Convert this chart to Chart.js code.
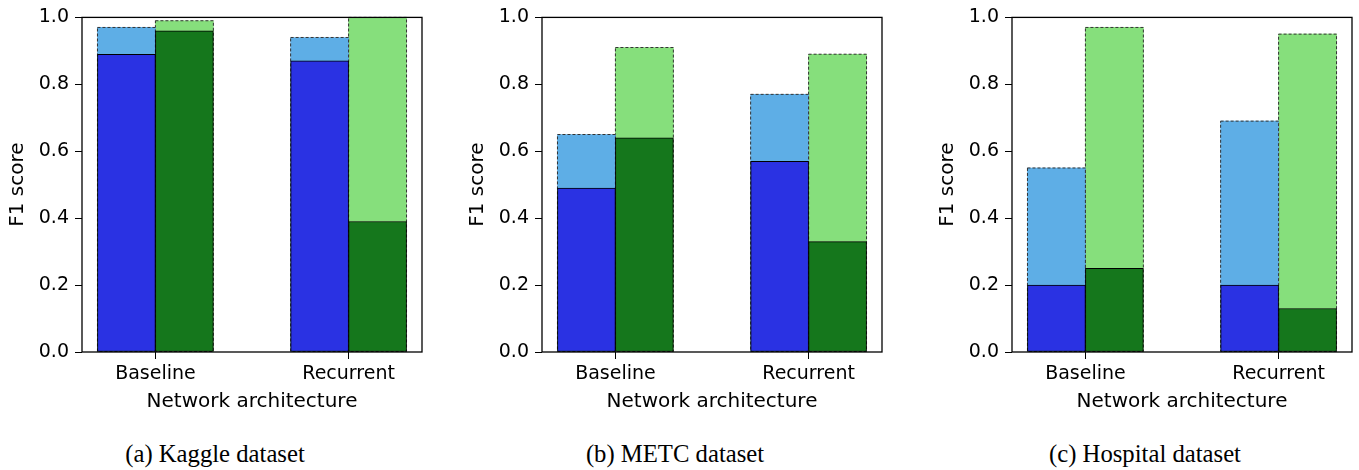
<!DOCTYPE html>
<html><head><meta charset="utf-8">
<script src="https://cdn.jsdelivr.net/npm/chart.js@4.4.1/dist/chart.umd.min.js"></script>
<style>
html,body{margin:0;padding:0;background:#fff;}
#wrap{position:relative;width:1359px;height:470px;overflow:hidden;background:#fff;}
#wrap canvas{position:absolute;top:0;}
.cap{position:absolute;top:441px;width:430px;text-align:center;font-family:'Liberation Serif','Times New Roman',serif;font-size:24.7px;line-height:25px;color:#000;white-space:nowrap;}
</style></head><body>
<div id="wrap"></div>
<script>
// ---- data ----
const categories = ['Baseline', 'Recurrent'];
const yTickValues = [0.0, 0.2, 0.4, 0.6, 0.8, 1.0];
const xAxisTitle = 'Network architecture';
const yAxisTitle = 'F1 score';
const captions = ['(a) Kaggle dataset', '(b) METC dataset', '(c) Hospital dataset'];

const kaggleBlueDark   = [0.89, 0.87];
const kaggleBlueTotal  = [0.97, 0.94];
const kaggleGreenDark  = [0.96, 0.39];
const kaggleGreenTotal = [0.99, 1.00];

const metcBlueDark   = [0.49, 0.57];
const metcBlueTotal  = [0.65, 0.77];
const metcGreenDark  = [0.64, 0.33];
const metcGreenTotal = [0.91, 0.89];

const hospitalBlueDark   = [0.20, 0.20];
const hospitalBlueTotal  = [0.55, 0.69];
const hospitalGreenDark  = [0.25, 0.13];
const hospitalGreenTotal = [0.97, 0.95];

// ---- styling / layout ----
const COLORS = {
  blueDark: '#2a32e3', blueLight: '#5eaee6',
  greenDark: '#15771c', greenLight: '#86df7c'
};
const BAR_OFFSET = 0.15;          // bar half-offset from category centre (in category units)
const X_MIN = -0.38, X_MAX = 1.38;
const panelLefts = [0, 460, 930];
const CANVAS_W = 430, CANVAS_H = 420;

const panels = [
  {bd: kaggleBlueDark, bt: kaggleBlueTotal, gd: kaggleGreenDark, gt: kaggleGreenTotal},
  {bd: metcBlueDark, bt: metcBlueTotal, gd: metcGreenDark, gt: metcGreenTotal},
  {bd: hospitalBlueDark, bt: hospitalBlueTotal, gd: hospitalGreenDark, gt: hospitalGreenTotal}
];

const toPoints = (vals, shift) => vals.map((v, i) => ({x: i + shift, y: v}));

const dashedOutline = {
  id: 'dashedOutline',
  afterDatasetDraw(chart, args) {
    const ds = chart.data.datasets[args.index];
    if (!ds.dashedEdge) return;
    const ctx = chart.ctx;
    ctx.save();
    ctx.strokeStyle = '#333333';
    ctx.lineWidth = 1;
    ctx.setLineDash([3, 2]);
    args.meta.data.forEach(el => {
      const p = el.getProps(['x', 'y', 'base', 'width'], true);
      ctx.strokeRect(p.x - p.width / 2, p.y, p.width, p.base - p.y);
    });
    ctx.restore();
  }
};

const frame = {
  id: 'frame',
  afterDatasetsDraw(chart) {
    const {ctx, chartArea: a} = chart;
    ctx.save();
    ctx.strokeStyle = '#000';
    ctx.lineWidth = 1.3;
    ctx.strokeRect(a.left, a.top, a.right - a.left, a.bottom - a.top);
    ctx.restore();
  }
};

const wrap = document.getElementById('wrap');
const FONT = "'DejaVu Sans', sans-serif";

panels.forEach((p, k) => {
  const cv = document.createElement('canvas');
  cv.width = CANVAS_W; cv.height = CANVAS_H;
  cv.style.left = panelLefts[k] + 'px';
  cv.style.width = CANVAS_W + 'px'; cv.style.height = CANVAS_H + 'px';
  wrap.appendChild(cv);

  const cap = document.createElement('div');
  cap.className = 'cap';
  cap.style.left = panelLefts[k] + 'px';
  cap.textContent = captions[k];
  wrap.appendChild(cap);

  const solid = (data, color) => ({
    data, backgroundColor: color, borderColor: '#000', borderWidth: 1,
    borderSkipped: false, grouped: false, barPercentage: 1, categoryPercentage: 1
  });
  const light = (data, color) => ({
    data, backgroundColor: color, borderWidth: 0, dashedEdge: true,
    grouped: false, barPercentage: 1, categoryPercentage: 1
  });

  new Chart(cv, {
    type: 'bar',
    data: {
      datasets: [
        solid(toPoints(p.bd, -BAR_OFFSET), COLORS.blueDark),
        solid(toPoints(p.gd, BAR_OFFSET), COLORS.greenDark),
        light(toPoints(p.bt, -BAR_OFFSET), COLORS.blueLight),
        light(toPoints(p.gt, BAR_OFFSET), COLORS.greenLight)
      ]
    },
    options: {
      responsive: false,
      animation: false,
      devicePixelRatio: 1,
      layout: {padding: {left: 0, right: CANVAS_W - 422, top: 15, bottom: 0}},
      plugins: {legend: {display: false}, tooltip: {enabled: false}},
      scales: {
        x: {
          type: 'linear', min: X_MIN, max: X_MAX, offset: false,
          afterBuildTicks: s => { s.ticks = categories.map((c, i) => ({value: i})); },
          afterFit: s => { s.height = CANVAS_H - 352; },
          ticks: {
            callback: v => categories[v] ?? '',
            font: {family: FONT, size: 19}, color: '#000', padding: 4,
            maxRotation: 0, autoSkip: false
          },
          grid: {drawOnChartArea: false, drawTicks: true, tickLength: 7, color: '#000', lineWidth: 1, offset: false},
          border: {display: false},
          title: {display: true, text: xAxisTitle, font: {family: FONT, size: 20}, color: '#000', padding: {top: 0, bottom: 6}}
        },
        y: {
          type: 'linear', min: 0, max: 1,
          afterBuildTicks: s => { s.ticks = yTickValues.map(v => ({value: v})); },
          afterFit: s => { s.width = 82; },
          ticks: {
            callback: v => Number(v).toFixed(1),
            font: {family: FONT, size: 19}, color: '#000', padding: 6
          },
          grid: {drawOnChartArea: false, drawTicks: true, tickLength: 7, color: '#000', lineWidth: 1},
          border: {display: false},
          title: {display: true, text: yAxisTitle, font: {family: FONT, size: 20}, color: '#000', padding: {top: 6, bottom: 0}}
        }
      }
    },
    plugins: [dashedOutline, frame]
  });
});
</script>
</body></html>
